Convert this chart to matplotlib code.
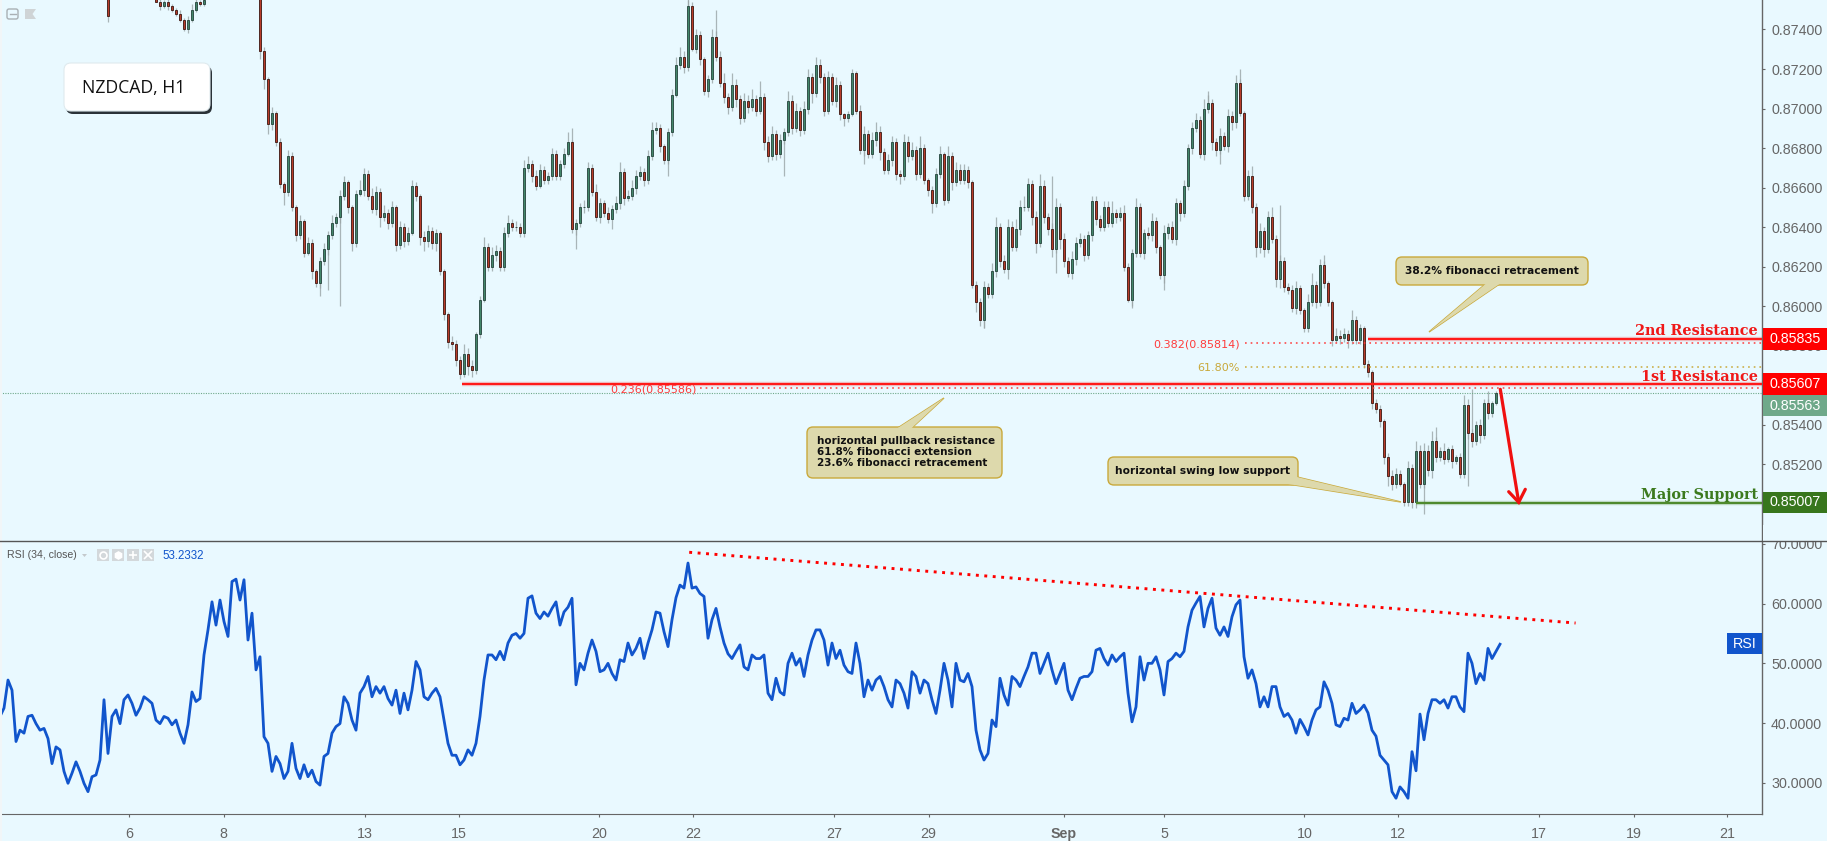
import numpy as np
import matplotlib
matplotlib.use("Agg")
import matplotlib.pyplot as plt
from matplotlib.patches import FancyBboxPatch, Polygon, Rectangle
from matplotlib.ticker import FormatStrFormatter

nan = np.nan
BG = "#e9f9ff"
GREY = "#666666"
RSI_BLUE = "#1155cc"
SANS = "Liberation Sans"

# bar 0 is the left edge of the chart, one bar here is two H1 candles
first_bar = 26
# closes in 1/10000, nan where the candle is above the visible window
closes = [8770, 8747, nan, nan, nan, nan, nan, nan, nan, nan, nan, nan, 8765,
    8754, 8752, 8754, 8752, 8750, 8748, 8745, 8740, 8745, 8750, 8754, 8753, 8755,
    nan, nan, nan, nan, nan, nan, nan, nan, nan, nan, nan, nan, 8775,
    8729, 8715, 8692, 8698, 8683, 8662, 8658, 8676, 8650, 8636, 8643, 8627, 8632, 8618, 8612,
    8623, 8629, 8636, 8642, 8645, 8656, 8663, 8650, 8632, 8657, 8659, 8667, 8656, 8649, 8658,
    8645, 8647, 8642, 8650, 8631, 8640, 8633, 8637, 8661, 8656, 8635, 8633, 8638, 8632, 8637,
    8618, 8596, 8582, 8581, 8573, 8566, 8576, 8570, 8568, 8586, 8603, 8630, 8620, 8626, 8628,
    8620, 8637, 8642, 8640, 8640, 8637, 8670, 8672, 8666, 8661, 8669, 8664, 8666, 8677, 8666,
    8672, 8677, 8683, 8639, 8642, 8650, 8650, 8670, 8658, 8645,
    8652, 8647, 8644, 8649, 8652, 8668, 8655, 8656, 8660, 8666, 8668, 8664, 8676, 8689, 8690,
    8681, 8674, 8688, 8707, 8722, 8726, 8721, 8752, 8730, 8737, 8725, 8709, 8715, 8736, 8726,
    8713, 8706, 8701, 8712, 8705, 8695, 8704, 8701, 8705, 8699, 8706, 8683, 8676, 8687, 8677,
    8684, 8688, 8704, 8690, 8699, 8689, 8700, 8716, 8708, 8722, 8716, 8699, 8716, 8704, 8712,
    8697, 8695, 8697, 8718, 8699, 8679, 8687, 8677, 8684, 8688, 8678, 8669, 8674, 8683, 8667,
    8666, 8683, 8676, 8679, 8667, 8680, 8664, 8659, 8652, 8667, 8677, 8654, 8676, 8663, 8669,
    8664, 8669, 8663, 8611, 8602, 8593, 8610, 8606, 8618, 8640, 8623, 8619, 8640, 8630, 8639,
    8650, 8650, 8662, 8645, 8632, 8661, 8645, 8639, 8629, 8650, 8634, 8623, 8617, 8624, 8632,
    8634, 8626, 8636, 8653, 8644, 8640, 8650, 8642, 8647, 8645, 8647, 8620, 8603, 8627, 8650,
    8627, 8637, 8636, 8643, 8630, 8616, 8637, 8640, 8634, 8652, 8647, 8661, 8680, 8690, 8694,
    8677, 8700, 8703, 8683, 8679, 8686, 8681, 8696, 8693, 8713, 8698, 8656, 8666, 8650, 8630,
    8638, 8629, 8645, 8634, 8614, 8623, 8610, 8608, 8599,
    8609, 8598, 8589, 8602, 8611, 8602, 8621, 8612, 8602, 8583, 8585, 8584, 8586, 8583, 8593,
    8583, 8589, 8571, 8567, 8551, 8548, 8542, 8524, 8514, 8510, 8515, 8510, 8501, 8518, 8501,
    8527, 8510, 8527, 8517, 8532, 8524, 8527, 8523, 8528, 8522, 8524, 8515, 8550, 8536, 8532,
    8540, 8535, 8551, 8546, 8551, 8556]
# wick length past the body, same units and same order as closes
wick_up = [0, 1, 0, 0, 0, 0, 0, 0, 0, 0, 0, 0, 0,
    1, 2, 1, 2, 1, 1, 2, 1, 2, 3, 2, 1, 1,
    0, 0, 0, 0, 0, 0, 0, 0, 0, 0, 0, 0, 0,
    0, 2, 1, 3, 1, 2, 1, 3, 2, 1, 3, 1, 3, 2, 1,
    2, 3, 2, 4, 2, 3, 3, 1, 1, 2, 5, 3, 2, 4, 3,
    2, 4, 2, 3, 1, 3, 2, 3, 3, 2, 1, 3, 3, 2, 2,
    1, 1, 1, 3, 2, 2, 5, 3, 3, 1, 2, 5, 2, 4, 3,
    2, 3, 4, 2, 3, 2, 4, 4, 2, 3, 3, 2, 2, 3, 2,
    2, 3, 5, 1, 2, 2, 4, 3, 2, 4,
    3, 2, 3, 2, 4, 5, 2, 3, 4, 3, 3, 2, 3, 4, 3,
    2, 1, 2, 3, 4, 5, 3, 3, 2, 3, 2, 1, 2, 4, 3,
    3, 5, 2, 6, 3, 2, 4, 3, 5, 2, 8, 2, 3, 4, 2,
    3, 2, 5, 3, 4, 2, 4, 4, 2, 4, 3, 2, 3, 2, 4,
    2, 1, 2, 2, 1, 3, 4, 2, 4, 5, 3, 2, 3, 3, 2,
    2, 4, 3, 4, 2, 6, 2, 1, 2, 3, 4, 1, 5, 2, 4,
    3, 3, 2, 1, 2, 2, 3, 2, 4, 5, 2, 3, 4, 3, 5,
    4, 6, 3, 2, 3, 6, 3, 2, 3, 5, 2, 3, 2, 4, 3,
    3, 2, 2, 3, 3, 2, 3, 3, 6, 2, 3, 4, 2, 2, 5,
    2, 2, 3, 4, 2, 1, 4, 2, 3, 3, 2, 3, 2, 3, 4,
    2, 5, 4, 2, 2, 4, 2, 4, 3, 4, 2, 1, 3, 5, 2,
    4, 2, 3, 5, 2, 3, 2, 2, 3,
    4, 2, 1, 4, 6, 2, 3, 2, 1, 1, 4, 3, 3, 2, 5,
    2, 2, 1, 2, 1, 2, 2, 1, 2, 3, 3, 2, 1, 4, 2,
    5, 3, 4, 3, 5, 2, 2, 4, 1, 2, 1, 2, 5, 3, 2,
    2, 3, 2, 2, 1, 1]
wick_dn = [0, 3, 0, 0, 0, 0, 0, 0, 0, 0, 0, 0, 0,
    0, 2, 1, 2, 1, 1, 1, 1, 2, 1, 1, 1, 1,
    0, 0, 0, 0, 0, 0, 0, 0, 0, 0, 0, 0, 0,
    4, 5, 5, 3, 2, 2, 7, 2, 2, 3, 2, 2, 1, 4, 2,
    3, 2, 3, 2, 2, 3, 2, 3, 4, 2, 1, 3, 2, 2, 3,
    5, 2, 3, 2, 3, 2, 3, 2, 1, 3, 4, 5, 3, 3, 4,
    2, 3, 3, 3, 3, 3, 2, 5, 4, 2, 2, 1, 2, 2, 3,
    2, 2, 2, 2, 2, 2, 2, 2, 3, 2, 1, 2, 2, 2, 2,
    2, 2, 1, 2, 3, 2, 3, 2, 2, 2,
    3, 2, 2, 5, 2, 3, 4, 2, 2, 3, 2, 3, 2, 2, 2,
    3, 2, 2, 2, 1, 2, 3, 2, 1, 2, 3, 2, 3, 2, 2,
    2, 3, 4, 2, 4, 3, 2, 3, 2, 3, 2, 4, 3, 2, 3,
    2, 2, 2, 3, 2, 3, 2, 3, 5, 2, 3, 3, 2, 2, 3,
    3, 4, 2, 1, 2, 2, 3, 2, 2, 3, 4, 2, 2, 3, 3,
    4, 2, 3, 2, 3, 2, 2, 3, 5, 2, 2, 3, 2, 4, 2,
    2, 2, 3, 2, 5, 3, 4, 2, 2, 3, 3, 2, 5, 2, 2,
    3, 2, 2, 4, 5, 2, 3, 3, 4, 2, 5, 3, 2, 3, 3,
    2, 3, 2, 3, 3, 2, 2, 2, 2, 3, 2, 2, 1, 3, 2,
    2, 3, 2, 3, 3, 2, 4, 3, 2, 3, 4, 2, 2, 3, 2,
    2, 3, 2, 4, 3, 2, 2, 3, 4, 3, 2, 3, 2, 3, 5,
    3, 4, 2, 2, 4, 5, 3, 2, 2,
    3, 2, 2, 2, 2, 3, 2, 3, 2, 3, 1, 3, 2, 4, 2,
    2, 2, 2, 3, 3, 2, 3, 4, 5, 3, 2, 1, 2, 2, 3,
    3, 2, 2, 3, 4, 3, 2, 3, 2, 4, 2, 2, 2, 3, 3,
    2, 4, 2, 3, 2, 1]
# the long wicks that stand out from the rest
spike_lo_bar = [80, 82, 85, 144, 167, 196, 216, 246, 264, 283, 291, 305, 356, 367]
spike_lo = [8605, 8608, 8600, 8629, 8666, 8666, 8672, 8589, 8617, 8599, 8608, 8672, 8495, 8509]
spike_hi_bar = [143, 172, 179, 263, 302, 310, 320, 331, 359, 368, 372]
spike_hi = [8690, 8757, 8750, 8666, 8709, 8720, 8651, 8626, 8539, 8558, 8557]

rsi = [41.1, 42.5, 47.2, 45.5, 36.9, 38.8, 38.3, 41.1, 41.3, 39.9,
    38.8, 39.1, 37.4, 33.2, 36.0, 35.5, 31.9, 29.9, 31.6, 33.5,
    31.9, 29.9, 28.5, 31.0, 31.3, 33.8, 43.9, 34.9, 41.1, 42.2,
    39.9, 43.9, 44.7, 43.3, 41.3, 42.5, 44.4, 43.9, 43.3, 40.5,
    39.9, 41.1, 40.8, 39.7, 40.5, 38.3, 36.6, 39.7, 45.2, 43.6,
    44.1, 51.4, 55.6, 60.3, 56.4, 60.6, 57.0, 54.5, 63.7, 64.1,
    60.6, 64.0, 53.9, 58.4, 48.9, 51.1, 37.7, 36.6, 31.9, 34.4,
    33.2, 30.7, 31.9, 36.6, 32.4, 30.7, 33.0, 31.0, 32.1, 30.2,
    29.6, 34.4, 34.9, 38.3, 39.4, 39.9, 44.4, 43.3, 40.5, 38.8,
    45.0, 46.1, 47.8, 44.4, 46.1, 45.0, 46.1, 44.1, 43.0, 45.5,
    41.6, 45.0, 42.2, 45.5, 50.3, 48.9, 44.4, 43.9, 45.0, 45.8,
    44.4, 40.5, 36.6, 34.6, 34.6, 33.0, 33.8, 35.5, 34.6, 36.6,
    41.1, 47.2, 51.4, 51.4, 50.6, 52.0, 50.6, 53.4, 54.7, 55.0,
    54.2, 55.0, 60.9, 61.3, 58.4, 57.5, 58.6, 57.9, 59.2, 60.3,
    56.4, 58.6, 59.4, 60.9, 46.4, 50.0, 48.9, 51.7, 53.9, 52.0,
    48.6, 48.9, 50.0, 48.3, 47.2, 50.6, 50.3, 53.4, 51.4, 52.5,
    54.2, 50.8, 53.4, 55.6, 58.6, 58.4, 55.3, 52.8, 57.3, 61.0,
    63.1, 62.6, 66.8, 62.6, 62.8, 61.7, 61.2, 54.2, 57.3, 59.2,
    56.1, 53.4, 51.6, 50.8, 52.0, 53.1, 49.4, 48.9, 51.4, 50.8,
    50.8, 51.4, 45.0, 43.9, 47.5, 45.2, 44.7, 50.0, 51.7, 49.7,
    50.8, 47.8, 51.4, 53.9, 55.6, 55.6, 53.9, 49.7, 53.4, 50.8,
    52.2, 49.7, 48.6, 48.3, 53.4, 50.0, 44.4, 47.2, 45.5, 47.2,
    47.8, 46.1, 43.9, 42.7, 47.2, 46.6, 45.0, 42.5, 48.6, 47.8,
    45.0, 47.2, 46.6, 43.9, 41.6, 45.5, 50.0, 47.2, 42.7, 50.0,
    47.2, 46.9, 48.3, 46.1, 38.8, 35.5, 33.8, 34.9, 40.5, 39.4,
    47.5, 44.7, 43.0, 47.8, 47.2, 46.1, 47.8, 49.4, 51.7, 51.7,
    48.3, 50.0, 51.7, 48.9, 46.6, 48.3, 50.0, 45.5, 43.9, 45.8,
    47.5, 47.8, 47.8, 48.6, 52.2, 52.5, 50.8, 49.7, 51.4, 50.3,
    51.1, 51.7, 45.0, 40.2, 42.7, 51.1, 47.2, 50.0, 50.0, 51.1,
    48.9, 44.7, 50.3, 50.8, 51.7, 51.1, 52.0, 56.1, 58.9, 60.1,
    61.2, 56.1, 59.2, 60.9, 55.9, 54.7, 56.1, 54.5, 57.8, 59.8,
    60.6, 51.1, 47.5, 48.9, 46.6, 42.7, 44.4, 42.7, 46.1, 46.1,
    42.7, 41.1, 41.6, 40.5, 38.3, 40.6, 39.4, 38.0, 40.5, 42.2,
    42.7, 46.9, 45.5, 43.3, 39.7, 39.4, 40.8, 40.5, 43.3, 41.6,
    42.2, 43.0, 41.7, 38.8, 37.8, 34.6, 33.8, 33.0, 28.5, 27.4,
    29.3, 28.5, 27.4, 35.2, 32.0, 41.5, 37.2, 41.6, 43.9, 43.9,
    43.3, 43.9, 42.5, 44.4, 44.4, 42.7, 41.9, 51.7, 50.0, 46.6,
    48.3, 47.2, 52.5, 50.8, 52.0, 53.2]

price_ticks = [0.852, 0.854, 0.858, 0.860, 0.862, 0.864, 0.866, 0.868,
    0.870, 0.872, 0.874]
rsi_ticks = [30, 40, 50, 60, 70]
date_labels = ["6", "8", "13", "15", "20", "22", "27", "29", "Sep", "5", "10", "12", "17", "19", "21"]
date_bars = [32.25, 55.9, 91.25, 114.75, 149.75, 173.25, 208.5, 232.15, 266, 291, 326.1, 349.5, 384.75, 408.4, 431.85]

resistance_1 = 0.85607
resistance_2 = 0.85835
support = 0.85007
last_price = 0.85563
fib_382 = 0.85814
fib_236 = 0.85586
fib_618 = 0.85695
trend_bars = [172.3, 393.9]
trend_rsi = [68.6, 56.75]

W, H = 1827, 841
AXIS_X, SPLIT_Y, BOTTOM_Y = 1762, 541, 814

fig = plt.figure(figsize=(W / 100, H / 100), dpi=100, facecolor=BG)
ax = fig.add_axes([0, (H - SPLIT_Y) / H, AXIS_X / W, SPLIT_Y / H], facecolor=BG)
ax2 = fig.add_axes([0, (H - BOTTOM_Y) / H, AXIS_X / W, (BOTTOM_Y - SPLIT_Y) / H], facecolor=BG)

# candles
c = np.array(closes) / 10000
o = np.r_[nan, c[:-1]]
bars = first_bar + np.arange(len(c))
n = min(len(c), len(wick_up), len(wick_dn))
c, o, bars = c[:n], o[:n], bars[:n]
up = np.array(wick_up[:n]) / 10000
dn = np.array(wick_dn[:n]) / 10000
wick_col = "#9aa4a6"
ax.vlines(bars, np.minimum(o, c) - dn, np.maximum(o, c) + up, color=wick_col, lw=0.9, alpha=0.8, zorder=1)
ax.vlines(spike_lo_bar, [x / 10000 for x in spike_lo], c[np.array(spike_lo_bar) - first_bar],
          color=wick_col, lw=0.9, alpha=0.8, zorder=1)
ax.vlines(spike_hi_bar, c[np.array(spike_hi_bar) - first_bar], [x / 10000 for x in spike_hi],
          color=wick_col, lw=0.9, alpha=0.8, zorder=1)
rising = c >= o
ax.bar(bars[rising], (c - o)[rising], bottom=o[rising], width=0.66, color="#43866a",
       edgecolor="#24423a", lw=0.6, zorder=2)
ax.bar(bars[~rising], (c - o)[~rising], bottom=o[~rising], width=0.66, color="#b83c2a",
       edgecolor="#3a1610", lw=0.6, zorder=2)

# levels
ax.axhline(last_price, color="#6fa98a", lw=0.8, ls=(0, (1, 1.2)), zorder=1)
for level, start, col in [(resistance_1, 462, "#ff1a1a"), (resistance_2, 1368, "#ff1a1a"), (support, 1416, "#4f8a2e")]:
    ax.hlines(level, start / 4, AXIS_X / 4, color=col, lw=3.2, alpha=0.25, zorder=3)
    ax.hlines(level, start / 4, AXIS_X / 4, color=col, lw=1.5, zorder=3)
dot = (0, (1.1, 2.6))
ax.hlines(fib_382, 1245 / 4, AXIS_X / 4, color="#ff3b3b", lw=1.1, ls=dot, zorder=3)
ax.hlines(fib_236, 700 / 4, AXIS_X / 4, color="#ff3b3b", lw=1.1, ls=dot, zorder=3)
ax.hlines(fib_618, 1245 / 4, AXIS_X / 4, color="#c9a93b", lw=1.1, ls=dot, zorder=3)

ax.set_xlim(0, AXIS_X / 4)
ax.set_ylim(0.84813, 0.87549)
ax.set_xticks([])
ax.set_yticks(price_ticks)
ax.yaxis.set_major_formatter(FormatStrFormatter("%.5f"))
ax.yaxis.tick_right()

# rsi pane
ax2.plot(np.arange(len(rsi)), rsi, color=RSI_BLUE, lw=2.0, solid_joinstyle="round", zorder=2)
ax2.plot(trend_bars, trend_rsi, color="#ff0000", lw=2.1, ls=(0, (1, 1.9)), zorder=3)
ax2.set_xlim(0, AXIS_X / 4)
ax2.set_ylim(24.76, 70.49)
ax2.set_yticks(rsi_ticks)
ax2.yaxis.set_major_formatter(FormatStrFormatter("%.4f"))
ax2.yaxis.tick_right()
ax2.set_xticks(date_bars)
ax2.set_xticklabels(date_labels)

for a in (ax, ax2):
    for s in ("left", "top", "bottom"):
        a.spines[s].set_visible(False)
    a.spines["right"].set_color(GREY)
    a.spines["right"].set_linewidth(1.0)
    a.tick_params(axis="both", colors=GREY, labelsize=10.3, length=2.5, width=0.8, pad=4)
    for lab in a.get_yticklabels() + a.get_xticklabels():
        lab.set_fontfamily(SANS)
ax2.spines["bottom"].set_visible(True)
ax2.spines["bottom"].set_color(GREY)
ax2.tick_params(axis="x", pad=7)
ax2.get_xticklabels()[date_labels.index("Sep")].set_fontweight("bold")

# overlay in pixel coordinates for the drawn-on annotations
ov = fig.add_axes([0, 0, 1, 1], facecolor="none", zorder=5)
ov.set_xlim(0, W)
ov.set_ylim(H, 0)
ov.axis("off")

# hides the top of the 70.0000 label and the strip on the left edge
ov.add_patch(Rectangle((AXIS_X + 1, 525), W - AXIS_X, 16, fc=BG, ec="none"))
ov.add_patch(Rectangle((0, 0), 2, H, fc="#f1f6f8", ec="none"))
ov.plot([0, W], [SPLIT_Y, SPLIT_Y], color="#555555", lw=1.0)

for label, y0, y1, col in [("0.85835", 328, 349.5, "#ff0000"), ("0.85607", 373, 395, "#ff0000"),
                           ("0.85563", 395, 416, "#6fa98a"), ("0.85007", 491.5, 512.5, "#38761d")]:
    ov.add_patch(Rectangle((AXIS_X + 1, y0), W - AXIS_X, y1 - y0, fc=col, ec="none"))
    ov.text(1770, (y0 + y1) / 2, label, color="white", fontsize=10.3, family=SANS, va="center", ha="left")
ov.add_patch(Rectangle((1727, 633), 35, 21, fc=RSI_BLUE, ec="none"))
ov.text(1744.5, 643.5, "RSI", color="white", fontsize=10.3, family=SANS, va="center", ha="center")

res_font = dict(family="DejaVu Serif", fontweight="bold", fontsize=10.4, ha="right", va="center")
ov.text(1758, 331, "2nd Resistance", color="#f01818", **res_font)
ov.text(1758, 377, "1st Resistance", color="#f01818", **res_font)
ov.text(1758, 495, "Major Support", color="#3c7a1e", **res_font)

fib_font = dict(family="DejaVu Sans", fontsize=8, ha="right", va="center")
ov.text(1240, 344, "0.382(0.85814)", color="#ff3b3b", **fib_font)
ov.text(1240, 367.5, "61.80%", color="#c9a93b", **fib_font)
ov.text(697, 389, "0.236(0.85586)", color="#ff3b3b", **fib_font)

# red down arrow
ov.plot([1500.3, 1518.7], [389.3, 502.3], color="#f01010", lw=2.3, solid_capstyle="round")
ov.plot([1508.7, 1518.7, 1525.3], [491.7, 502.3, 489.3], color="#f01010", lw=2.3,
        solid_capstyle="round", solid_joinstyle="miter")


def callout(x0, y0, x1, y1, tail):
    ov.add_patch(Polygon(tail, closed=True, fc="#ddd9ac", ec="#c9a93b", lw=1.0, zorder=6))
    ov.add_patch(FancyBboxPatch((x0, y0), x1 - x0, y1 - y0, boxstyle="round,pad=0,rounding_size=6",
                                fc="#ddd9ac", ec="#c9a93b", lw=1.0, zorder=6))
    # tail joins the box without a border across it
    ov.add_patch(Polygon(tail[:1] + tail[-1:] + tail[1:2], closed=True, fc="#ddd9ac", ec="none", zorder=7))


note_font = dict(family="DejaVu Sans", fontweight="bold", fontsize=7.7, color="#111111", zorder=8, va="center")
callout(1396, 257, 1588, 285, [(1485.5, 284), (1429, 332), (1499.5, 284)])
ov.text(1492, 270.5, "38.2% fibonacci retracement", ha="center", **note_font)
callout(807, 427, 1002, 478, [(897.7, 428), (944, 398), (911.7, 428)])
pull_font = dict(note_font, fontsize=7.5)
ov.text(816.7, 441, "horizontal pullback resistance", ha="left", **pull_font)
ov.text(816.7, 452, "61.8% fibonacci extension", ha="left", **pull_font)
ov.text(816.7, 462.7, "23.6% fibonacci retracement", ha="left", **pull_font)
callout(1108, 457, 1298, 485, [(1297, 477), (1401, 502), (1288, 484)])
ov.text(1203, 471, "horizontal swing low support", ha="center", **note_font)

# symbol box with its shadow
ov.add_patch(FancyBboxPatch((66, 66), 146, 48, boxstyle="round,pad=0,rounding_size=7", fc="#2a3238", ec="none", zorder=6))
ov.add_patch(FancyBboxPatch((64, 63), 146, 48, boxstyle="round,pad=0,rounding_size=7", fc="white",
                            ec="#dfeaee", lw=0.8, zorder=7))
ov.text(81.5, 88, "NZDCAD, H1", family="Open Sans", fontsize=12.7, color="#111111", ha="left", va="center", zorder=8)

# toolbar marks, top left
ov.add_patch(FancyBboxPatch((7, 9), 11, 10, boxstyle="round,pad=0,rounding_size=2", fc="none", ec="#a9b0b4", lw=1.0))
ov.plot([9.5, 15.5], [14, 14], color="#a9b0b4", lw=1.0)
ov.add_patch(Polygon([(25, 9), (36, 9), (32.5, 14), (36, 19), (25, 19)], closed=True, fc="#cfd4d6", ec="none"))

# rsi legend
ov.text(7, 555, "RSI (34, close)", family=SANS, fontsize=7.6, color="#555555", ha="left", va="center")
ov.add_patch(Polygon([(82, 554), (87, 554), (84.5, 557)], closed=True, fc="#c4c9cc", ec="none"))
for x, mark in zip([96.5, 111.5, 126.5, 141.5], ["o", "h", "+", "x"]):
    ov.add_patch(Rectangle((x, 548.5), 12.5, 12.5, fc="#d3d8db", ec="none"))
    ov.plot([x + 6.25], [554.7], marker=mark, ms=5 if mark in "ho" else 6, mew=1.2, ls="none",
            mfc="white" if mark == "h" else "none", mec="white")
ov.text(162, 556, "53.2332", family=SANS, fontsize=8.3, color=RSI_BLUE, ha="left", va="center")

fig.savefig("out.png", dpi=100, facecolor=BG)
